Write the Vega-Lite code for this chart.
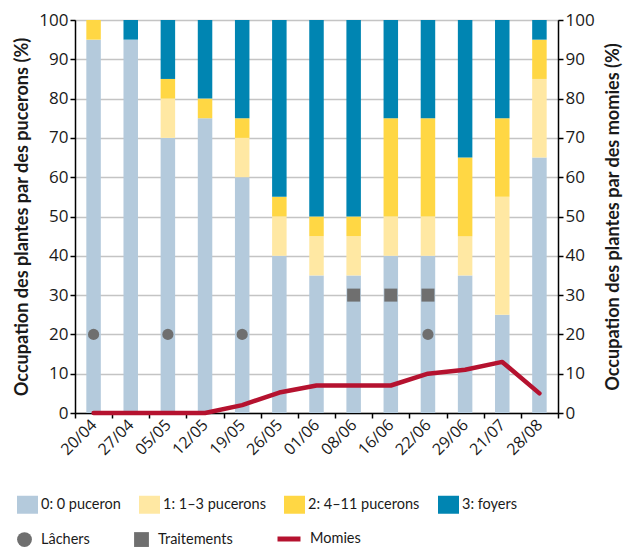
{
  "$schema": "https://vega.github.io/schema/vega-lite/v6.json",
  "width": 483,
  "height": 393,
  "autosize": {"type": "none"},
  "padding": {"left": 75, "top": 20, "right": 80, "bottom": 135},
  "background": "white",
  "config": {
    "view": {"stroke": "#333333", "strokeWidth": 1},
    "axis": {
      "labelFont": "Open Sans",
      "labelFontSize": 17,
      "labelColor": "#1a1a1a",
      "titleFont": "Lato",
      "titleFontWeight": "bold",
      "titleFontSize": 18.1,
      "titleColor": "#1a1a1a",
      "domainColor": "#000000",
      "domainWidth": 1.5,
      "tickColor": "#000000",
      "tickWidth": 1.5,
      "tickSize": 5,
      "gridColor": "#c4c4c4",
      "gridWidth": 1.5
    },
    "legend": {
      "labelFont": "Lato",
      "labelFontSize": 14.5,
      "labelColor": "#1a1a1a",
      "padding": 0
    }
  },
  "datasets": {
    "bars": [
      {"date": "20/04", "cat": "0: 0 puceron", "order": 0, "value": 95},
      {"date": "20/04", "cat": "1: 1–3 pucerons", "order": 1, "value": 0},
      {"date": "20/04", "cat": "2: 4–11 pucerons", "order": 2, "value": 5},
      {"date": "20/04", "cat": "3: foyers", "order": 3, "value": 0},
      {"date": "27/04", "cat": "0: 0 puceron", "order": 0, "value": 95},
      {"date": "27/04", "cat": "1: 1–3 pucerons", "order": 1, "value": 0},
      {"date": "27/04", "cat": "2: 4–11 pucerons", "order": 2, "value": 0},
      {"date": "27/04", "cat": "3: foyers", "order": 3, "value": 5},
      {"date": "05/05", "cat": "0: 0 puceron", "order": 0, "value": 70},
      {"date": "05/05", "cat": "1: 1–3 pucerons", "order": 1, "value": 10},
      {"date": "05/05", "cat": "2: 4–11 pucerons", "order": 2, "value": 5},
      {"date": "05/05", "cat": "3: foyers", "order": 3, "value": 15},
      {"date": "12/05", "cat": "0: 0 puceron", "order": 0, "value": 75},
      {"date": "12/05", "cat": "1: 1–3 pucerons", "order": 1, "value": 0},
      {"date": "12/05", "cat": "2: 4–11 pucerons", "order": 2, "value": 5},
      {"date": "12/05", "cat": "3: foyers", "order": 3, "value": 20},
      {"date": "19/05", "cat": "0: 0 puceron", "order": 0, "value": 60},
      {"date": "19/05", "cat": "1: 1–3 pucerons", "order": 1, "value": 10},
      {"date": "19/05", "cat": "2: 4–11 pucerons", "order": 2, "value": 5},
      {"date": "19/05", "cat": "3: foyers", "order": 3, "value": 25},
      {"date": "26/05", "cat": "0: 0 puceron", "order": 0, "value": 40},
      {"date": "26/05", "cat": "1: 1–3 pucerons", "order": 1, "value": 10},
      {"date": "26/05", "cat": "2: 4–11 pucerons", "order": 2, "value": 5},
      {"date": "26/05", "cat": "3: foyers", "order": 3, "value": 45},
      {"date": "01/06", "cat": "0: 0 puceron", "order": 0, "value": 35},
      {"date": "01/06", "cat": "1: 1–3 pucerons", "order": 1, "value": 10},
      {"date": "01/06", "cat": "2: 4–11 pucerons", "order": 2, "value": 5},
      {"date": "01/06", "cat": "3: foyers", "order": 3, "value": 50},
      {"date": "08/06", "cat": "0: 0 puceron", "order": 0, "value": 35},
      {"date": "08/06", "cat": "1: 1–3 pucerons", "order": 1, "value": 10},
      {"date": "08/06", "cat": "2: 4–11 pucerons", "order": 2, "value": 5},
      {"date": "08/06", "cat": "3: foyers", "order": 3, "value": 50},
      {"date": "16/06", "cat": "0: 0 puceron", "order": 0, "value": 40},
      {"date": "16/06", "cat": "1: 1–3 pucerons", "order": 1, "value": 10},
      {"date": "16/06", "cat": "2: 4–11 pucerons", "order": 2, "value": 25},
      {"date": "16/06", "cat": "3: foyers", "order": 3, "value": 25},
      {"date": "22/06", "cat": "0: 0 puceron", "order": 0, "value": 40},
      {"date": "22/06", "cat": "1: 1–3 pucerons", "order": 1, "value": 10},
      {"date": "22/06", "cat": "2: 4–11 pucerons", "order": 2, "value": 25},
      {"date": "22/06", "cat": "3: foyers", "order": 3, "value": 25},
      {"date": "29/06", "cat": "0: 0 puceron", "order": 0, "value": 35},
      {"date": "29/06", "cat": "1: 1–3 pucerons", "order": 1, "value": 10},
      {"date": "29/06", "cat": "2: 4–11 pucerons", "order": 2, "value": 20},
      {"date": "29/06", "cat": "3: foyers", "order": 3, "value": 35},
      {"date": "21/07", "cat": "0: 0 puceron", "order": 0, "value": 25},
      {"date": "21/07", "cat": "1: 1–3 pucerons", "order": 1, "value": 30},
      {"date": "21/07", "cat": "2: 4–11 pucerons", "order": 2, "value": 20},
      {"date": "21/07", "cat": "3: foyers", "order": 3, "value": 25},
      {"date": "28/08", "cat": "0: 0 puceron", "order": 0, "value": 65},
      {"date": "28/08", "cat": "1: 1–3 pucerons", "order": 1, "value": 20},
      {"date": "28/08", "cat": "2: 4–11 pucerons", "order": 2, "value": 10},
      {"date": "28/08", "cat": "3: foyers", "order": 3, "value": 5}
    ],
    "momies": [
      {"date": "20/04", "serie": "Momies", "value": 0},
      {"date": "27/04", "serie": "Momies", "value": 0},
      {"date": "05/05", "serie": "Momies", "value": 0},
      {"date": "12/05", "serie": "Momies", "value": 0},
      {"date": "19/05", "serie": "Momies", "value": 2},
      {"date": "26/05", "serie": "Momies", "value": 5.2},
      {"date": "01/06", "serie": "Momies", "value": 7},
      {"date": "08/06", "serie": "Momies", "value": 7},
      {"date": "16/06", "serie": "Momies", "value": 7},
      {"date": "22/06", "serie": "Momies", "value": 10},
      {"date": "29/06", "serie": "Momies", "value": 11},
      {"date": "21/07", "serie": "Momies", "value": 13},
      {"date": "28/08", "serie": "Momies", "value": 5}
    ],
    "lachers": [
      {"date": "20/04", "type": "Lâchers", "y": 20},
      {"date": "05/05", "type": "Lâchers", "y": 20},
      {"date": "19/05", "type": "Lâchers", "y": 20},
      {"date": "22/06", "type": "Lâchers", "y": 20}
    ],
    "traitements": [
      {"date": "08/06", "type": "Traitements", "y": 30},
      {"date": "16/06", "type": "Traitements", "y": 30},
      {"date": "22/06", "type": "Traitements", "y": 30}
    ]
  },
  "layer": [
    {
      "data": {"name": "bars"},
      "mark": {"type": "bar", "size": 14.5},
      "encoding": {
        "x": {
          "field": "date",
          "type": "ordinal",
          "sort": null,
          "scale": {
            "domain": ["20/04", "27/04", "05/05", "12/05", "19/05", "26/05", "01/06", "08/06", "16/06", "22/06", "29/06", "21/07", "28/08"],
            "paddingInner": 0,
            "paddingOuter": 0
          },
          "axis": {
            "title": null,
            "labelAngle": -45,
            "labelAlign": "right",
            "labelBaseline": "middle",
            "labelFontSize": 16,
            "labelPadding": 4,
            "tickBand": "extent",
            "grid": false
          }
        },
        "y": {
          "field": "value",
          "type": "quantitative",
          "stack": "zero",
          "scale": {"domain": [0, 100], "nice": false},
          "axis": {
            "title": "Occupation des plantes par des pucerons (%)",
            "values": [0, 10, 20, 30, 40, 50, 60, 70, 80, 90, 100],
            "grid": true,
            "labelPadding": 2,
            "titlePadding": 7
          }
        },
        "fill": {
          "field": "cat",
          "type": "nominal",
          "scale": {
            "domain": ["0: 0 puceron", "1: 1–3 pucerons", "2: 4–11 pucerons", "3: foyers"],
            "range": ["#b4cadc", "#ffe8a3", "#ffd744", "#0085b2"]
          },
          "legend": {
            "orient": "none",
            "legendX": -58,
            "legendY": 474,
            "direction": "horizontal",
            "columns": 4,
            "columnPadding": 18,
            "title": null,
            "symbolType": "M-1,-0.857H1V0.857H-1Z",
            "symbolSize": 441,
            "symbolStrokeWidth": 0,
            "labelOffset": 3
          }
        },
        "order": {"field": "order", "type": "quantitative"}
      }
    },
    {
      "data": {"name": "momies"},
      "mark": {"type": "line", "strokeWidth": 4.5, "strokeCap": "round", "strokeJoin": "round"},
      "encoding": {
        "x": {"field": "date", "type": "ordinal", "sort": null},
        "y": {
          "field": "value",
          "type": "quantitative",
          "scale": {"domain": [0, 100], "nice": false},
          "axis": {
            "orient": "right",
            "title": "Occupation des plantes par des momies (%)",
            "values": [0, 10, 20, 30, 40, 50, 60, 70, 80, 90, 100],
            "grid": false,
            "labelPadding": 2,
            "titleAngle": -90,
            "titleBaseline": "top",
            "titlePadding": 10
          }
        },
        "stroke": {
          "field": "serie",
          "type": "nominal",
          "scale": {"domain": ["Momies"], "range": ["#b5122f"]},
          "legend": {
            "orient": "none",
            "legendX": 200,
            "legendY": 505,
            "title": null,
            "symbolType": "stroke",
            "symbolStrokeWidth": 5,
            "symbolSize": 529,
            "labelOffset": 7
          }
        }
      }
    },
    {
      "data": {"name": "lachers"},
      "mark": {"type": "point", "filled": true, "size": 125, "color": "#6f6f6f", "opacity": 1},
      "encoding": {
        "x": {"field": "date", "type": "ordinal", "sort": null},
        "y": {"field": "y", "type": "quantitative", "scale": {"domain": [0, 100], "nice": false}, "axis": null},
        "shape": {
          "field": "type",
          "type": "nominal",
          "scale": {"domain": ["Lâchers", "Traitements"], "range": ["circle", "square"]},
          "legend": {
            "orient": "none",
            "legendX": -58,
            "legendY": 512,
            "direction": "horizontal",
            "columns": 2,
            "columnPadding": 44,
            "title": null,
            "symbolSize": 220,
            "symbolFillColor": "#6f6f6f",
            "symbolStrokeWidth": 0,
            "labelOffset": 9
          }
        }
      }
    },
    {
      "data": {"name": "traitements"},
      "mark": {"type": "point", "filled": true, "size": 169, "color": "#6f6f6f", "opacity": 1},
      "encoding": {
        "x": {"field": "date", "type": "ordinal", "sort": null},
        "y": {"field": "y", "type": "quantitative", "scale": {"domain": [0, 100], "nice": false}, "axis": null},
        "shape": {"field": "type", "type": "nominal"}
      }
    }
  ],
  "resolve": {"scale": {"y": "independent"}}
}
